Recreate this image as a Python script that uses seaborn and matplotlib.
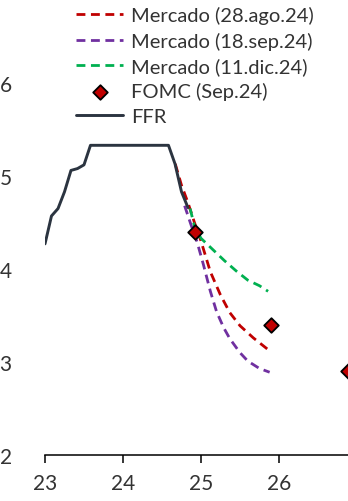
import matplotlib
matplotlib.use("Agg")
import matplotlib.pyplot as plt
import pandas as pd
import seaborn as sns

# FFR, monthly (x in years, 23 = 2023)
ffr_x = [23.0, 23.083, 23.167, 23.25, 23.333, 23.417, 23.5, 23.583, 23.667, 23.75,
         23.833, 23.917, 24.0, 24.083, 24.167, 24.25, 24.333, 24.417, 24.5, 24.583,
         24.667, 24.75, 24.833]
ffr_y = [4.27, 4.57, 4.65, 4.83, 5.06, 5.08, 5.12, 5.33, 5.33, 5.33,
         5.33, 5.33, 5.33, 5.33, 5.33, 5.33, 5.33, 5.33, 5.33, 5.33,
         5.13, 4.83, 4.66]

# market paths
ago_x = [24.67, 24.75, 24.83, 24.92, 25.0, 25.12, 25.25, 25.37, 25.5, 25.67, 25.85]
ago_y = [5.13, 4.90, 4.72, 4.49, 4.30, 3.97, 3.72, 3.53, 3.39, 3.26, 3.14]

sep_x = [24.79, 24.87, 24.95, 25.03, 25.12, 25.2, 25.29, 25.37, 25.5, 25.6, 25.75, 25.88]
sep_y = [4.68, 4.48, 4.29, 4.05, 3.76, 3.54, 3.37, 3.25, 3.10, 3.01, 2.93, 2.89]

dic_x = [24.86, 24.92, 25.0, 25.1, 25.2, 25.3, 25.45, 25.6, 25.75, 25.86]
dic_y = [4.65, 4.45, 4.33, 4.25, 4.17, 4.09, 3.98, 3.88, 3.82, 3.76]

# FOMC Sep.24 dots (end 2024, 2025, 2026)
fomc_x = [24.92, 25.9, 26.88]
fomc_y = [4.40, 3.40, 2.90]

x_ticks = [23, 24, 25, 26]
y_ticks = [2, 3, 4, 5, 6]

labels = ["Mercado (28.ago.24)", "Mercado (18.sep.24)", "Mercado (11.dic.24)",
          "FOMC (Sep.24)", "FFR"]
colors = ["#C00000", "#7030A0", "#00B050", "#C00000", "#2B3440"]

sns.set_theme(style="white")
plt.rcParams["font.family"] = ["Lato", "DejaVu Sans"]

fig = plt.figure(figsize=(3.48, 5.02), dpi=100)
ax = fig.add_axes([45 / 348, 1 - 456 / 502, 1 - 45 / 348, 456 / 502])

for xs, ys, lab, col in [(ago_x, ago_y, labels[0], colors[0]),
                         (sep_x, sep_y, labels[1], colors[1]),
                         (dic_x, dic_y, labels[2], colors[2])]:
    sns.lineplot(x=xs, y=ys, ax=ax, color=col, lw=2.0, label=lab, zorder=3)
    ax.lines[-1].set_dashes((3.2, 2))

sns.scatterplot(x=fomc_x, y=fomc_y, ax=ax, marker="D", s=55, color=colors[3],
                edgecolor="black", linewidth=1.3, label=labels[3], zorder=5)
sns.lineplot(x=ffr_x, y=ffr_y, ax=ax, color=colors[4], lw=2.1, label=labels[4], zorder=4)

ax.set_xlim(23, 23 + 303 / 78)
ax.set_ylim(2, 2 + 456 / 93)
ax.set_xticks(x_ticks)
ax.set_yticks(y_ticks)
ax.set_xticklabels([str(t) for t in x_ticks])
ax.set_yticklabels([str(t) for t in y_ticks])

sns.despine(ax=ax, left=True, top=True, right=True)
ax.spines["bottom"].set_color("black")
ax.spines["bottom"].set_linewidth(1.1)
ax.tick_params(axis="x", bottom=True, direction="out", length=6, width=1.1,
               color="black", labelsize=15, pad=7, labelcolor="#333333")
ax.tick_params(axis="y", left=False, labelsize=15, pad=18, labelcolor="#333333")

handles, labs = ax.get_legend_handles_labels()
leg = ax.legend(handles, labs, loc="upper left", bbox_to_anchor=(76 / 348, 1 - 7 / 502),
                bbox_transform=fig.transFigure, frameon=False, fontsize=14.5,
                handlelength=2.35, handletextpad=0.4, labelspacing=0.37,
                borderpad=0, borderaxespad=0)
for t in leg.get_texts():
    t.set_color("#333333")

fig.savefig("out.png", dpi=100)
